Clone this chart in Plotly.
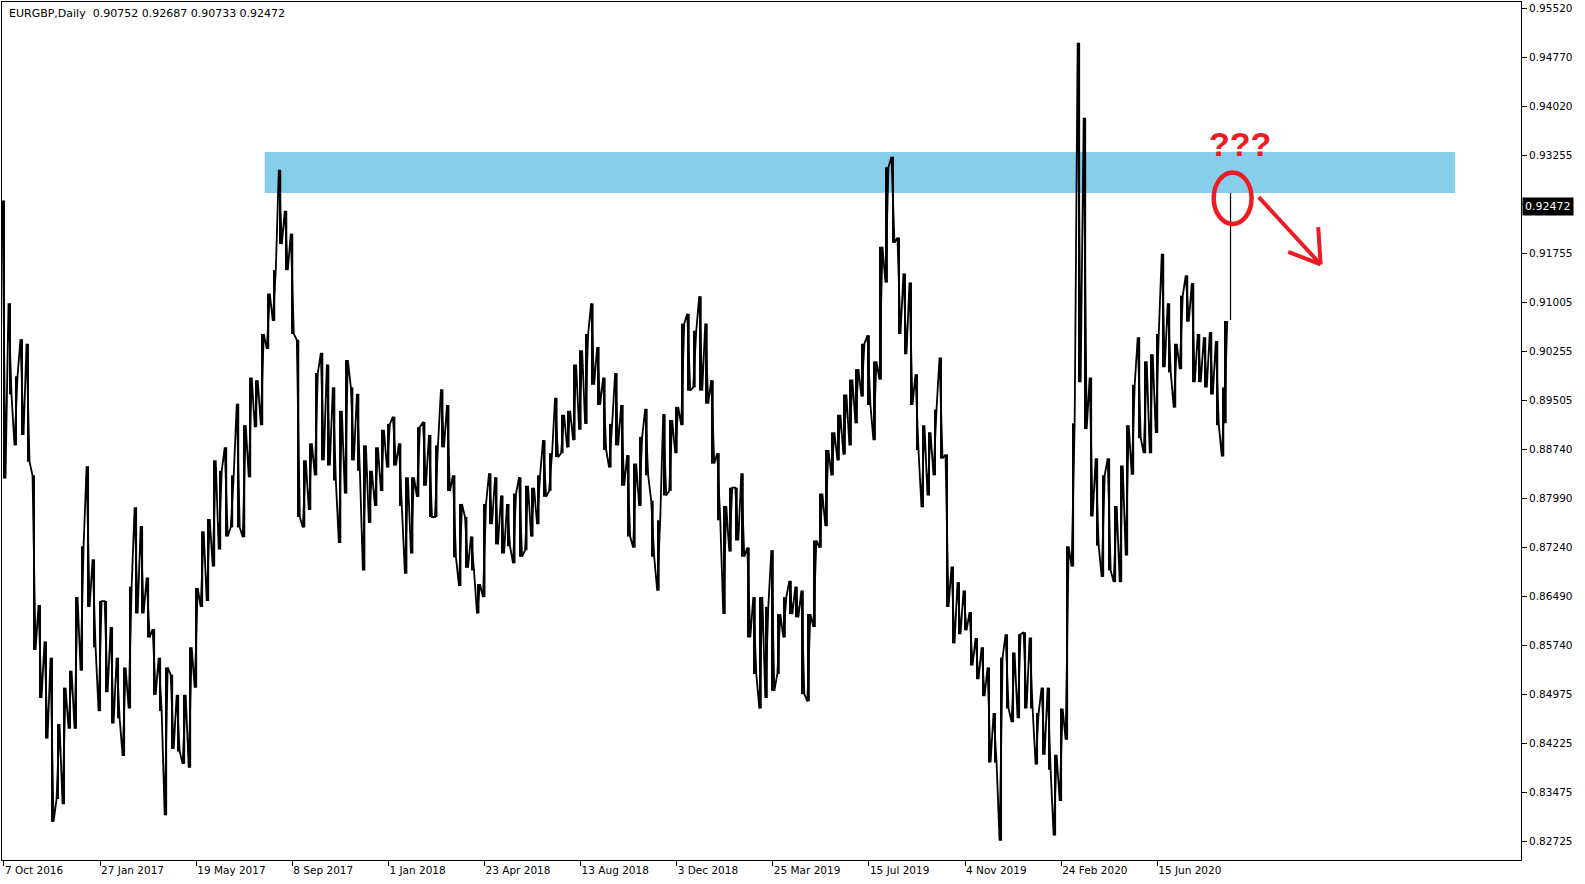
import plotly.graph_objects as go

# ---------------- data ----------------
title_text = "EURGBP,Daily  0.90752 0.92687 0.90733 0.92472"
last_price = 0.92472

# weekly samples (bar index = trading day since 7 Oct 2016), high / low
high = [0.9257, 0.9099, 0.8987, 0.9044, 0.9037, 0.8835, 0.8636, 0.8580, 0.8555, 0.8453,
        0.8509, 0.8535, 0.8648, 0.8726, 0.8849, 0.8706, 0.8642, 0.8642, 0.8602, 0.8555,
        0.8540, 0.8664, 0.8786, 0.8757, 0.8678, 0.8599, 0.8555, 0.8540, 0.8529, 0.8498,
        0.8498, 0.8571, 0.8662, 0.8749, 0.8768, 0.8858, 0.8842, 0.8878, 0.8835, 0.8945,
        0.8912, 0.8985, 0.8981, 0.9052, 0.9114, 0.9150, 0.9304, 0.9241, 0.9206, 0.9043,
        0.8858, 0.8884, 0.8992, 0.9023, 0.9005, 0.8970, 0.8934, 0.9012, 0.8970, 0.8960,
        0.8881, 0.8842, 0.8878, 0.8905, 0.8914, 0.8925, 0.8884, 0.8832, 0.8832, 0.8909,
        0.8917, 0.8897, 0.8881, 0.8967, 0.8943, 0.8835, 0.8791, 0.8771, 0.8741, 0.8668,
        0.8791, 0.8838, 0.8832, 0.8804, 0.8791, 0.8807, 0.8832, 0.8819, 0.8816, 0.8835,
        0.8889, 0.8869, 0.8954, 0.8928, 0.8934, 0.9005, 0.9027, 0.9052, 0.9099, 0.9032,
        0.8985, 0.8914, 0.8992, 0.8943, 0.8866, 0.8853, 0.8894, 0.8937, 0.8796, 0.8766,
        0.8929, 0.8920, 0.8940, 0.9068, 0.9083, 0.9057, 0.9110, 0.9068, 0.8981, 0.8869,
        0.8788, 0.8816, 0.8816, 0.8838, 0.8724, 0.8648, 0.8648, 0.8633, 0.8720, 0.8622,
        0.8648, 0.8673, 0.8664, 0.8658, 0.8622, 0.8735, 0.8807, 0.8874, 0.8901, 0.8928,
        0.8959, 0.8982, 0.8998, 0.9037, 0.9050, 0.9010, 0.9186, 0.9308, 0.9324, 0.9200,
        0.9145, 0.9131, 0.8990, 0.8912, 0.8901, 0.8936, 0.9016, 0.8867, 0.8695, 0.8671,
        0.8658, 0.8625, 0.8585, 0.8571, 0.8540, 0.8470, 0.8555, 0.8591, 0.8563, 0.8591,
        0.8594, 0.8586, 0.8470, 0.8509, 0.8509, 0.8406, 0.8477, 0.8726, 0.8915, 0.9499,
        0.9384, 0.8985, 0.8861, 0.8835, 0.8861, 0.8788, 0.8850, 0.8912, 0.8974, 0.9047,
        0.9010, 0.9021, 0.9052, 0.9175, 0.9099, 0.9037, 0.9111, 0.9142, 0.9130, 0.9052,
        0.9047, 0.9055, 0.9041, 0.8970, 0.9072]

low = [0.8830, 0.8959, 0.8881, 0.8897, 0.8856, 0.8567, 0.8493, 0.8431, 0.8303, 0.8338,
       0.8330, 0.8446, 0.8446, 0.8535, 0.8633, 0.8571, 0.8473, 0.8502, 0.8454, 0.8462,
       0.8404, 0.8477, 0.8623, 0.8623, 0.8586, 0.8498, 0.8473, 0.8313, 0.8415, 0.8411,
       0.8392, 0.8386, 0.8509, 0.8633, 0.8642, 0.8695, 0.8721, 0.8741, 0.8755, 0.8755,
       0.8740, 0.8832, 0.8909, 0.8912, 0.9029, 0.9072, 0.9190, 0.9150, 0.9052, 0.8771,
       0.8755, 0.8782, 0.8835, 0.8858, 0.8850, 0.8827, 0.8731, 0.8807, 0.8858, 0.8842,
       0.8689, 0.8762, 0.8788, 0.8811, 0.8847, 0.8850, 0.8788, 0.8684, 0.8715, 0.8802,
       0.8819, 0.8771, 0.8771, 0.8878, 0.8811, 0.8709, 0.8665, 0.8693, 0.8689, 0.8623,
       0.8648, 0.8760, 0.8729, 0.8715, 0.8726, 0.8700, 0.8710, 0.8720, 0.8741, 0.8760,
       0.8802, 0.8811, 0.8863, 0.8869, 0.8878, 0.8889, 0.8905, 0.8914, 0.8974, 0.8943,
       0.8874, 0.8847, 0.8881, 0.8819, 0.8741, 0.8724, 0.8788, 0.8835, 0.8710, 0.8658,
       0.8804, 0.8811, 0.8869, 0.8912, 0.8965, 0.8970, 0.8965, 0.8945, 0.8853, 0.8766,
       0.8622, 0.8718, 0.8735, 0.8710, 0.8586, 0.8530, 0.8477, 0.8493, 0.8504, 0.8530,
       0.8586, 0.8622, 0.8617, 0.8499, 0.8488, 0.8602, 0.8724, 0.8757, 0.8835, 0.8858,
       0.8867, 0.8881, 0.8915, 0.8956, 0.8943, 0.8889, 0.8982, 0.9131, 0.9192, 0.9052,
       0.9021, 0.8943, 0.8874, 0.8786, 0.8804, 0.8835, 0.8861, 0.8633, 0.8577, 0.8591,
       0.8597, 0.8543, 0.8522, 0.8496, 0.8394, 0.8394, 0.8274, 0.8477, 0.8456, 0.8462,
       0.8477, 0.8477, 0.8391, 0.8406, 0.8383, 0.8282, 0.8335, 0.8429, 0.8695, 0.8978,
       0.8906, 0.8772, 0.8727, 0.8679, 0.8689, 0.8671, 0.8671, 0.8712, 0.8836, 0.8892,
       0.8869, 0.8869, 0.8900, 0.9001, 0.8993, 0.8939, 0.8998, 0.9071, 0.8978, 0.8978,
       0.8970, 0.8959, 0.8912, 0.8864, 0.8915]

bar_idx = [5 * i for i in range(len(high) - 1)] + [1017]

# last daily bar (from the chart header)
last_bar_idx = 1021
last_open, last_high, last_low, last_close = 0.90752, 0.92687, 0.90733, 0.92472

x_tick_bars = [0, 80, 160, 240, 320, 400, 480, 560, 640, 720, 800, 880, 960]
x_tick_labels = ["7 Oct 2016", "27 Jan 2017", "19 May 2017", "8 Sep 2017", "1 Jan 2018",
                 "23 Apr 2018", "13 Aug 2018", "3 Dec 2018", "25 Mar 2019", "15 Jul 2019",
                 "4 Nov 2019", "24 Feb 2020", "15 Jun 2020"]

y_tick_labels = ["0.95520", "0.94770", "0.94020", "0.93255", "", "0.91755", "0.91005",
                 "0.90255", "0.89505", "0.88740", "0.87990", "0.87240", "0.86490",
                 "0.85740", "0.84975", "0.84225", "0.83475", "0.82725"]
y_top_label, y_bottom_label = 0.95520, 0.82725

zone_low, zone_high = 0.92684, 0.93314
zone_start_bar, zone_end_bar = 217, 1208

# ---------------- figure ----------------
n = len(y_tick_labels)
step = (y_top_label - y_bottom_label) / (n - 1)
y_tick_vals = [y_top_label - k * step for k in range(n)]

# each weekly range drawn as one stroke of a continuous zig-zag (direction follows trend)
mids = [(h + l) / 2 for h, l in zip(high, low)]
xs, ys = [], []
half = 1.25
for i, (x, h, l) in enumerate(zip(bar_idx, high, low)):
    nxt = mids[i + 1] if i + 1 < len(mids) else last_high
    pts = [l, h] if nxt >= mids[i] else [h, l]
    xs += [x - half, x + half]
    ys += pts

ranges = [h - l for h, l in zip(high, low)]

fig = go.Figure()
fig.add_trace(go.Bar(x=bar_idx, y=ranges, base=low, width=1.6,
                     marker=dict(color="black", line=dict(width=0)),
                     hoverinfo="skip", showlegend=False))
fig.add_trace(go.Scatter(x=xs, y=ys, mode="lines",
                         line=dict(color="black", width=1.8), hoverinfo="skip",
                         showlegend=False))
fig.add_trace(go.Scatter(x=[last_bar_idx, last_bar_idx], y=[last_low, last_high], mode="lines",
                         line=dict(color="black", width=1.2), hoverinfo="skip",
                         showlegend=False))

FONT = "Tahoma, DejaVu Sans, sans-serif"
RED = "#ED1C24"

fig.add_shape(type="rect", xref="x", yref="y", x0=zone_start_bar, x1=zone_end_bar,
              y0=zone_low, y1=zone_high, fillcolor="#87CEEB", line=dict(width=0),
              layer="below")

# red hand-drawn annotation
fig.add_shape(type="circle", xref="x", yref="y", x0=1007, x1=1038.5, y0=0.9221, y1=0.9300,
              line=dict(color=RED, width=4.5))
arrow_tail = (1044.5, 0.9262)
arrow_tip = (1096, 0.9159)
fig.add_shape(type="line", xref="x", yref="y", x0=arrow_tail[0], y0=arrow_tail[1],
              x1=arrow_tip[0], y1=arrow_tip[1], line=dict(color=RED, width=4))
fig.add_shape(type="line", xref="x", yref="y", x0=arrow_tip[0], y0=arrow_tip[1],
              x1=1094, y1=0.9216, line=dict(color=RED, width=4))
fig.add_shape(type="line", xref="x", yref="y", x0=arrow_tip[0], y0=arrow_tip[1],
              x1=1069, y1=0.9178, line=dict(color=RED, width=4))
fig.add_annotation(x=1029, y=0.9343, xref="x", yref="y", text="<b>???</b>",
                   showarrow=False,
                   font=dict(family="Liberation Sans Narrow, Liberation Sans, Arial",
                             size=34, color=RED))

# title and current price label
fig.add_annotation(x=0.003, y=1, xref="paper", yref="paper", xanchor="left", yanchor="top",
                   text=title_text, showarrow=False,
                   font=dict(family=FONT, size=11, color="black"), yshift=-3)
fig.add_annotation(x=1, y=last_price, xref="paper", yref="y", xanchor="left", yanchor="middle",
                   text=f"{last_price:.5f}", showarrow=False, bgcolor="black",
                   font=dict(family=FONT, size=11, color="white"), borderpad=2, xshift=1)

fig.update_layout(
    width=1585, height=884,
    margin=dict(l=2, r=64, t=2, b=24),
    paper_bgcolor="white", plot_bgcolor="white",
    showlegend=False,
    xaxis=dict(range=[-1.66, 1262.8], tickvals=x_tick_bars, ticktext=x_tick_labels,
               ticks="outside", ticklen=5, tickcolor="black", tickwidth=1,
               showline=True, linecolor="black", linewidth=1, mirror=True,
               showgrid=False, zeroline=False, ticklabelposition="outside right",
               tickfont=dict(family=FONT, size=10.5, color="black")),
    yaxis=dict(range=[0.82444, 0.95617], side="right", tickvals=y_tick_vals,
               ticktext=y_tick_labels, ticks="outside", ticklen=5, tickcolor="black",
               tickwidth=1, showline=True, linecolor="black", linewidth=1, mirror=True,
               showgrid=False, zeroline=False,
               tickfont=dict(family=FONT, size=10.5, color="black")),
)

fig.write_html("out.html", config={"displayModeBar": False},
               post_script="document.body.style.margin='0px';document.body.style.overflow='hidden';")
